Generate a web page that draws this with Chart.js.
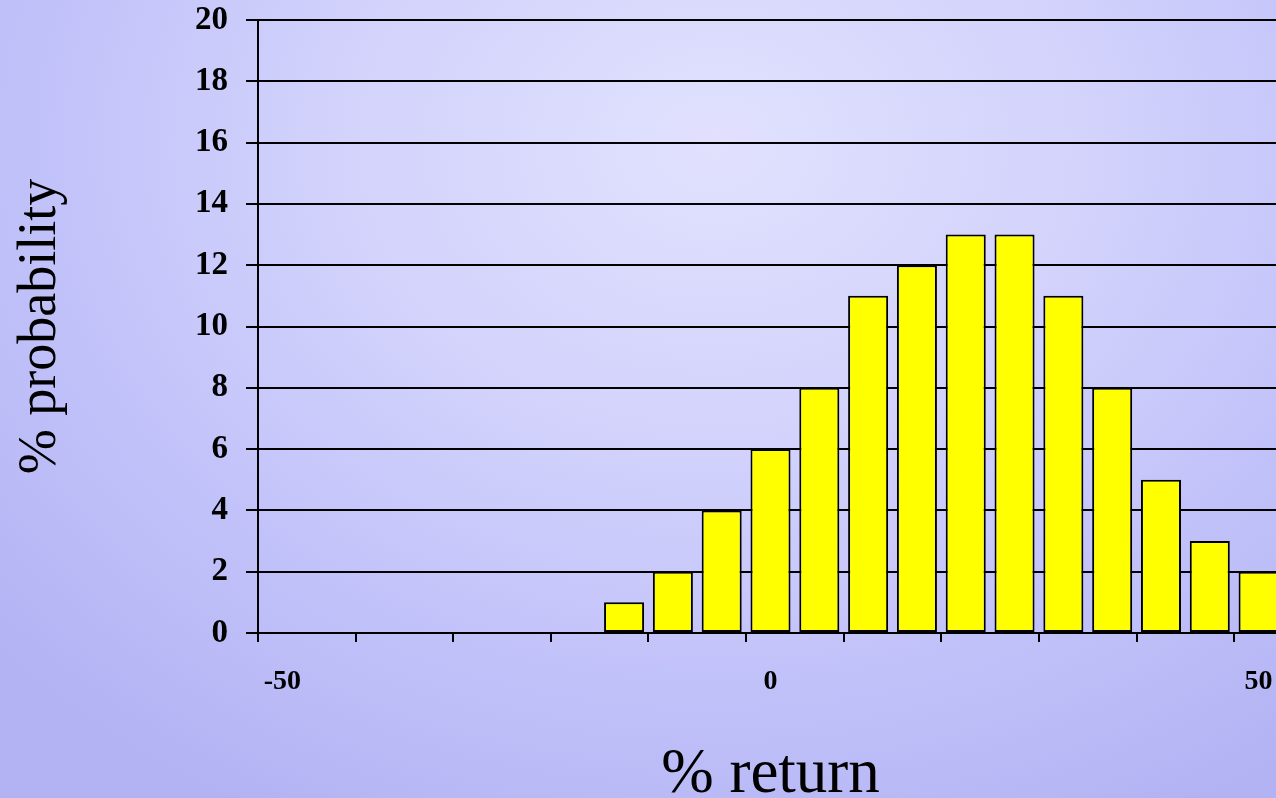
<!DOCTYPE html>
<html>
<head>
<meta charset="utf-8">
<script src="https://cdn.jsdelivr.net/npm/chart.js@4/dist/chart.umd.min.js"></script>
<style>
    html, body {
        margin: 0;
        padding: 0;
        width: 1276px;
        height: 798px;
        overflow: hidden;
    }
    body {
        background: radial-gradient(ellipse 75% 95% at 56% 18%, #e1e1fe 0%, #d2d2fc 40%, #c2c2fa 70%, #b3b3f4 100%);
    }
    canvas {
        display: block;
    }
</style>
</head>
<body>
<canvas id="returnChart" width="1290" height="820" style="width:1290px;height:820px;"></canvas>
<script>
// Histogram of % return vs % probability
const returnBins = [-50, -45, -40, -35, -30, -25, -20, -15, -10, -5, 0, 5, 10, 15, 20, 25, 30, 35, 40, 45, 50];
const probability = [0, 0, 0, 0, 0, 0, 0, 1, 2, 4, 6, 8, 11, 12, 13, 13, 11, 8, 5, 3, 2];
const shownLabels = ['-50', '0', '50'];
const yTicks = [0, 2, 4, 6, 8, 10, 12, 14, 16, 18, 20];

const serif = "'Liberation Serif', 'Times New Roman', serif";

const ctx = document.getElementById('returnChart');

new Chart(ctx, {
    type: 'bar',
    data: {
        labels: returnBins.map(String),
        datasets: [{
            label: '% probability',
            data: probability,
            backgroundColor: '#ffff00',
            borderColor: '#000000',
            borderWidth: 2,
            borderSkipped: false,
            barPercentage: 0.82,
            categoryPercentage: 1.0
        }]
    },
    options: {
        responsive: false,
        animation: false,
        devicePixelRatio: 1,
        plugins: {
            legend: { display: false },
            tooltip: { enabled: false }
        },
        layout: {
            padding: { top: 20, right: 7, bottom: 0, left: 0 }
        },
        scales: {
            x: {
                type: 'category',
                offset: true,
                grid: {
                    offset: true,
                    drawOnChartArea: false,
                    drawTicks: true,
                    tickLength: 9,
                    lineWidth: 2,
                    color: (c) => (c.index % 2 === 0 ? '#000000' : 'rgba(0,0,0,0)')
                },
                border: { display: true, color: '#000000', width: 2 },
                ticks: {
                    autoSkip: false,
                    maxRotation: 0,
                    minRotation: 0,
                    padding: 23,
                    color: '#000000',
                    font: { family: serif, size: 28, weight: 'bold' },
                    callback: function(value) {
                        const lbl = this.getLabelForValue(value);
                        return shownLabels.includes(lbl) ? lbl : '';
                    }
                },
                title: {
                    display: true,
                    text: '% return',
                    color: '#000000',
                    font: { family: serif, size: 63, weight: 'normal' },
                    padding: { top: 0, bottom: 7 }
                },
                afterFit: (scale) => {
                    scale.height = 187;
                    scale.paddingLeft = 0;
                    scale.paddingRight = 0;
                }
            },
            y: {
                min: 0,
                max: 20,
                afterBuildTicks: (scale) => {
                    scale.ticks = yTicks.map(v => ({ value: v }));
                },
                grid: {
                    color: '#000000',
                    lineWidth: 2,
                    drawTicks: true,
                    tickLength: 12
                },
                border: { display: true, color: '#000000', width: 2 },
                ticks: {
                    padding: 18,
                    color: '#000000',
                    font: { family: serif, size: 33, weight: 'bold' }
                },
                title: {
                    display: true,
                    text: '% probability',
                    color: '#000000',
                    font: { family: serif, size: 54, weight: 'normal' },
                    padding: { top: 8, bottom: 0 }
                },
                afterFit: (scale) => {
                    scale.width = 258;
                    scale.paddingTop = 0;
                    scale.paddingBottom = 0;
                }
            }
        }
    }
});
</script>
</body>
</html>
